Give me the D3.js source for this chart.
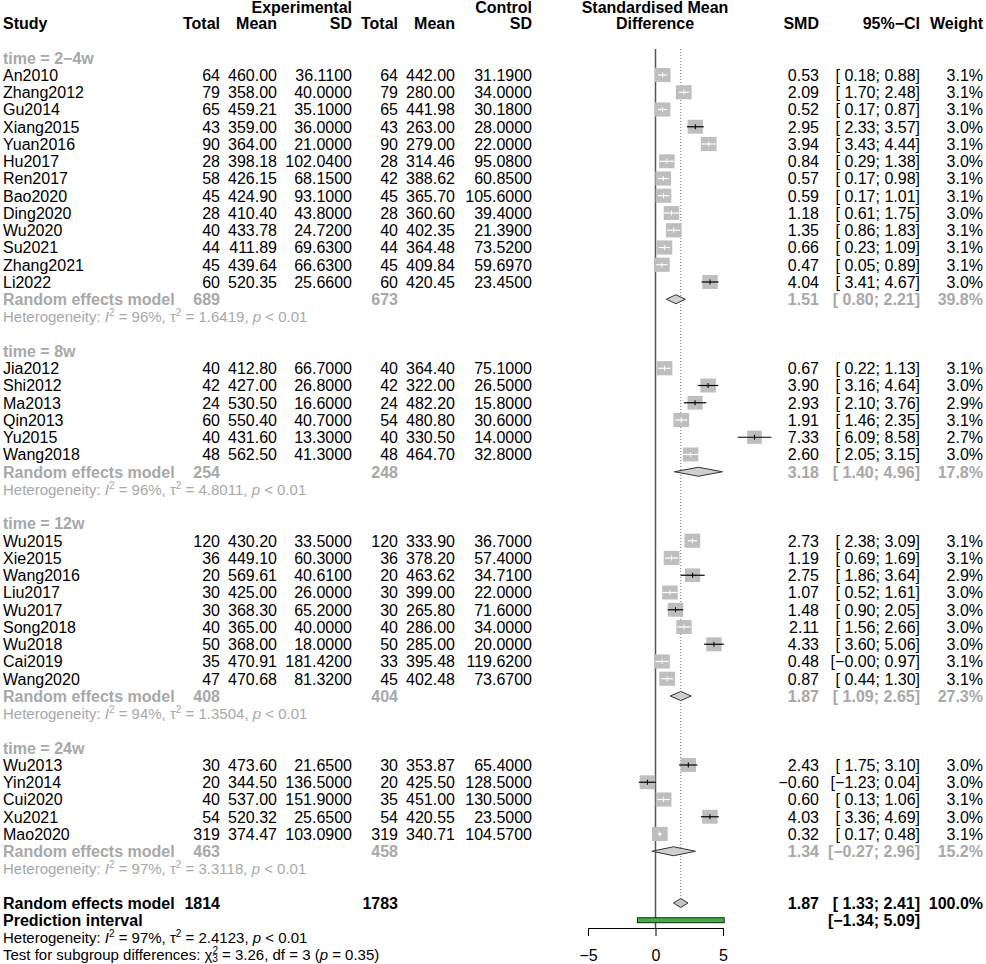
<!doctype html>
<html>
<head>
<meta charset="utf-8">
<title>Forest plot: standardised mean difference by time</title>
<script src="https://cdnjs.cloudflare.com/ajax/libs/d3/7.8.5/d3.min.js"></script>
<style>
  body { margin: 0; background: #fff; }
  svg text { font-family: "Liberation Sans", Arial, Helvetica, sans-serif; font-size: 16px; }
</style>
</head>
<body>
<div id="chart"></div>
<script>
// subgroups
const groups = ["2−4w", "8w", "12w", "24w"];

// studies (group index, experimental n/mean/sd, control n/mean/sd, smd, ci, weight)
const studies = ["An2010","Zhang2012","Gu2014","Xiang2015","Yuan2016","Hu2017","Ren2017","Bao2020","Ding2020","Wu2020","Su2021","Zhang2021","Li2022",
  "Jia2012","Shi2012","Ma2013","Qin2013","Yu2015","Wang2018",
  "Wu2015","Xie2015","Wang2016","Liu2017","Wu2017","Song2018","Wu2018","Cai2019","Wang2020",
  "Wu2013","Yin2014","Cui2020","Xu2021","Mao2020"];
const group = [0,0,0,0,0,0,0,0,0,0,0,0,0, 1,1,1,1,1,1, 2,2,2,2,2,2,2,2,2, 3,3,3,3,3];
const nE = [64,79,65,43,90,28,58,45,28,40,44,45,60, 40,42,24,60,40,48, 120,36,20,30,30,40,50,35,47, 30,20,40,54,319];
const meanE = [460.00,358.00,459.21,359.00,364.00,398.18,426.15,424.90,410.40,433.78,411.89,439.64,520.35,
  412.80,427.00,530.50,550.40,431.60,562.50,
  430.20,449.10,569.61,425.00,368.30,365.00,368.00,470.91,470.68,
  473.60,344.50,537.00,520.32,374.47];
const sdE = [36.11,40.00,35.10,36.00,21.00,102.04,68.15,93.10,43.80,24.72,69.63,66.63,25.66,
  66.70,26.80,16.60,40.70,13.30,41.30,
  33.50,60.30,40.61,26.00,65.20,40.00,18.00,181.42,81.32,
  21.65,136.50,151.90,25.65,103.09];
const nC = [64,79,65,43,90,28,42,45,28,40,44,45,60, 40,42,24,54,40,48, 120,36,20,30,30,40,50,33,45, 30,20,35,54,319];
const meanC = [442.00,280.00,441.98,263.00,279.00,314.46,388.62,365.70,360.60,402.35,364.48,409.84,420.45,
  364.40,322.00,482.20,480.80,330.50,464.70,
  333.90,378.20,463.62,399.00,265.80,286.00,285.00,395.48,402.48,
  353.87,425.50,451.00,420.55,340.71];
const sdC = [31.19,34.00,30.18,28.00,22.00,95.08,60.85,105.60,39.40,21.39,73.52,59.697,23.45,
  75.10,26.50,15.80,30.60,14.00,32.80,
  36.70,57.40,34.71,22.00,71.60,34.00,20.00,119.62,73.67,
  65.40,128.50,130.50,23.50,104.57];
const smd = [0.53,2.09,0.52,2.95,3.94,0.84,0.57,0.59,1.18,1.35,0.66,0.47,4.04,
  0.67,3.90,2.93,1.91,7.33,2.60,
  2.73,1.19,2.75,1.07,1.48,2.11,4.33,0.48,0.87,
  2.43,-0.60,0.60,4.03,0.32];
const lower = [0.18,1.70,0.17,2.33,3.43,0.29,0.17,0.17,0.61,0.86,0.23,0.05,3.41,
  0.22,3.16,2.10,1.46,6.09,2.05,
  2.38,0.69,1.86,0.52,0.90,1.56,3.60,-0.004,0.44,
  1.75,-1.23,0.13,3.36,0.17];
const upper = [0.88,2.48,0.87,3.57,4.44,1.38,0.98,1.01,1.75,1.83,1.09,0.89,4.67,
  1.13,4.64,3.76,2.35,8.58,3.15,
  3.09,1.69,3.64,1.61,2.05,2.66,5.06,0.97,1.30,
  3.10,0.04,1.06,4.69,0.48];
const weight = [3.1,3.1,3.1,3.0,3.1,3.0,3.1,3.1,3.0,3.1,3.1,3.1,3.0,
  3.1,3.0,2.9,3.1,2.7,3.0,
  3.1,3.1,2.9,3.0,3.0,3.0,3.0,3.1,3.1,
  3.0,3.0,3.1,3.0,3.1];

// subgroup random effects results
const subNE = [689, 254, 408, 463];
const subNC = [673, 248, 404, 458];
const subSmd = [1.51, 3.18, 1.87, 1.34];
const subLower = [0.80, 1.40, 1.09, -0.27];
const subUpper = [2.21, 4.96, 2.65, 2.96];
const subWeight = [39.8, 17.8, 27.3, 15.2];
const subI2 = [96, 96, 94, 97];
const subTau2 = ["1.6419", "4.8011", "1.3504", "3.3118"];

// overall results
const totNE = 1814, totNC = 1783;
const totSmd = 1.87, totLower = 1.33, totUpper = 2.41;
const predLower = -1.34, predUpper = 5.09;
const totI2 = 97, totTau2 = "2.4123";
const testChi = "3.26", testDf = 3, testP = "0.35";
const ticks = [-5, 0, 5];

// colours
const grey = "#a8a8a8", boxGrey = "#bebebe";

// build row list
const rows = [];
let r = 0;
groups.forEach((g, gi) => {
  rows.push({ type: "group", g: gi, r: r++ });
  studies.forEach((s, i) => { if (group[i] === gi) rows.push({ type: "study", i: i, r: r++ }); });
  rows.push({ type: "sub", g: gi, r: r++ });
  rows.push({ type: "subhet", g: gi, r: r++ });
  r++;
});
const rOverall = r++, rPred = r++, rHet = r++, rTest = r++;

// scales
const x = d3.scaleLinear().domain([-5, 5]).range([588, 723]);
const y = d3.scaleLinear().domain([0, rTest]).range([57.75, 954.75]); // row centres
const base = i => y(i) + 5.75;

const col = { study: 3, nE: 220, mE: 277, sdE: 352, nC: 398, mC: 455, sdC: 532, smd: 819, ci: 920, w: 983 };
const f2 = d3.format(".2f"), f4 = d3.format(".4f"), f1 = d3.format(".1f");
// keep the sign of values that round to zero (R prints -0.00)
const fs = v => (v < 0 ? "−" : "") + f2(Math.abs(v));
const ciText = (lo, hi) => "[" + (lo >= 0 ? " " : "") + fs(lo) + "; " + fs(hi) + "]";

const svg = d3.select("#chart").append("svg")
  .attr("width", 986).attr("height", 964);

function txt(xp, row, s, anchor, color, bold, size) {
  return svg.append("text")
    .attr("x", xp).attr("y", base(row))
    .attr("text-anchor", anchor || "start")
    .style("fill", color || "#000")
    .style("font-weight", bold ? "bold" : "normal")
    .style("font-size", (size || 16) + "px")
    .text(s);
}

// heterogeneity line with italics and superscripts
function hetText(row, I2, tau2, color) {
  const t = txt(col.study, row, "", "start", color, false, 15);
  t.append("tspan").text("Heterogeneity: ");
  t.append("tspan").style("font-style", "italic").text("I");
  t.append("tspan").attr("dy", -6).style("font-size", "10px").text("2");
  t.append("tspan").attr("dy", 6).text(" = " + I2 + "%, τ");
  t.append("tspan").attr("dy", -6).style("font-size", "10px").text("2");
  t.append("tspan").attr("dy", 6).text(" = " + tau2 + ", ");
  t.append("tspan").style("font-style", "italic").text("p");
  t.append("tspan").text(" < 0.01");
}

// header
txt(col.sdE, -2.7, "Experimental", "end", "#000", true).attr("y", 13);
txt(col.sdC, -2.7, "Control", "end", "#000", true).attr("y", 13);
txt(655, -2.7, "Standardised Mean", "middle", "#000", true).attr("y", 13);
[["Study", col.study, "start"], ["Total", col.nE, "end"], ["Mean", col.mE, "end"], ["SD", col.sdE, "end"],
 ["Total", col.nC, "end"], ["Mean", col.mC, "end"], ["SD", col.sdC, "end"], ["Difference", 655, "middle"],
 ["SMD", col.smd, "end"], ["95%−CI", col.ci, "end"], ["Weight", col.w, "end"]]
  .forEach(h => txt(h[1], -2, h[0], h[2], "#000", true).attr("y", 28.5));

// reference lines
svg.append("line")
  .attr("x1", x(0)).attr("x2", x(0))
  .attr("y1", 49).attr("y2", 928)
  .style("stroke", "#555").style("stroke-width", 1.5);
svg.append("line")
  .attr("x1", x(totSmd)).attr("x2", x(totSmd))
  .attr("y1", 49).attr("y2", y(rOverall) - 4)
  .style("stroke", "#777").style("stroke-width", 1).style("stroke-dasharray", "1,2");

const diamond = (est, lo, hi, row) => {
  const c = y(row), h = 4.5;
  return [[x(lo), c], [x(est), c - h], [x(hi), c], [x(est), c + h]].map(p => p.join(",")).join(" ");
};

rows.forEach(d => {
  if (d.type === "group") {
    txt(col.study, d.r, "time = " + groups[d.g], "start", grey, true);
  } else if (d.type === "study") {
    const i = d.i;
    txt(col.study, d.r, studies[i]);
    txt(col.nE, d.r, nE[i], "end");
    txt(col.mE, d.r, f2(meanE[i]), "end");
    txt(col.sdE, d.r, f4(sdE[i]), "end");
    txt(col.nC, d.r, nC[i], "end");
    txt(col.mC, d.r, f2(meanC[i]), "end");
    txt(col.sdC, d.r, f4(sdC[i]), "end");
    txt(col.smd, d.r, fs(smd[i]), "end");
    txt(col.ci, d.r, ciText(lower[i], upper[i]), "end");
    txt(col.w, d.r, f1(weight[i]) + "%", "end");

    const w = 15.46 * Math.sqrt(weight[i] / 3.0), h = w * 0.9;
    const cx = x(smd[i]), cy = y(d.r);
    svg.append("rect")
      .attr("x", cx - w / 2).attr("y", cy - h / 2)
      .attr("width", w).attr("height", h)
      .style("fill", boxGrey);
    const inside = x(lower[i]) >= cx - w / 2 && x(upper[i]) <= cx + w / 2;
    const lc = inside ? "#fff" : "#000";
    svg.append("line")
      .attr("x1", x(lower[i])).attr("x2", x(upper[i]))
      .attr("y1", cy).attr("y2", cy)
      .style("stroke", lc).style("stroke-width", 1.2);
    svg.append("line")
      .attr("x1", cx).attr("x2", cx)
      .attr("y1", cy - 2.5).attr("y2", cy + 2.5)
      .style("stroke", lc).style("stroke-width", 1);
  } else if (d.type === "sub") {
    const g = d.g;
    txt(col.study, d.r, "Random effects model", "start", grey, true);
    txt(col.nE, d.r, subNE[g], "end", grey, true);
    txt(col.nC, d.r, subNC[g], "end", grey, true);
    txt(col.smd, d.r, fs(subSmd[g]), "end", grey, true);
    txt(col.ci, d.r, ciText(subLower[g], subUpper[g]), "end", grey, true);
    txt(col.w, d.r, f1(subWeight[g]) + "%", "end", grey, true);
    svg.append("polygon")
      .attr("points", diamond(subSmd[g], subLower[g], subUpper[g], d.r))
      .style("fill", "#cfcfcf").style("stroke", "#333").style("stroke-width", 1);
  } else if (d.type === "subhet") {
    hetText(d.r, subI2[d.g], subTau2[d.g], grey);
  }
});

// overall
txt(col.study, rOverall, "Random effects model", "start", "#000", true);
txt(col.nE, rOverall, totNE, "end", "#000", true);
txt(col.nC, rOverall, totNC, "end", "#000", true);
txt(col.smd, rOverall, fs(totSmd), "end", "#000", true);
txt(col.ci, rOverall, ciText(totLower, totUpper), "end", "#000", true);
txt(col.w, rOverall, "100.0%", "end", "#000", true);
svg.append("polygon")
  .attr("points", diamond(totSmd, totLower, totUpper, rOverall))
  .style("fill", "#c4c4c4").style("stroke", "#333").style("stroke-width", 1);

txt(col.study, rPred, "Prediction interval", "start", "#000", true);
txt(col.ci, rPred, ciText(predLower, predUpper), "end", "#000", true);
svg.append("rect")
  .attr("x", x(predLower)).attr("y", y(rPred) - 2.5)
  .attr("width", x(predUpper) - x(predLower)).attr("height", 5)
  .style("fill", "#3cb043").style("stroke", "#000").style("stroke-width", 0.8);

hetText(rHet, totI2, totTau2, "#000");

const test = txt(col.study, rTest, "", "start", "#000", false, 15);
test.attr("y", base(rTest) - 1);
test.append("tspan").text("Test for subgroup differences: χ");
test.append("tspan").attr("dy", -6).style("font-size", "10px").text("2");
test.append("tspan").attr("dx", -5.6).attr("dy", 8.5).style("font-size", "10px").text("3");
test.append("tspan").attr("dy", -2.5).text(" = " + testChi + ", df = " + testDf + " (");
test.append("tspan").style("font-style", "italic").text("p");
test.append("tspan").text(" = " + testP + ")");

// axis
const axis = svg.append("g")
  .attr("transform", "translate(0,928)")
  .call(d3.axisBottom(x).tickValues(ticks).tickSize(8).tickSizeOuter(0).tickPadding(14));
axis.select(".domain").style("stroke", "#000");
axis.selectAll(".tick line").style("stroke", "#000");
axis.selectAll(".tick text")
  .style("font-size", "16px")
  .style("font-family", "\"Liberation Sans\", Arial, sans-serif");
</script>
</body>
</html>
